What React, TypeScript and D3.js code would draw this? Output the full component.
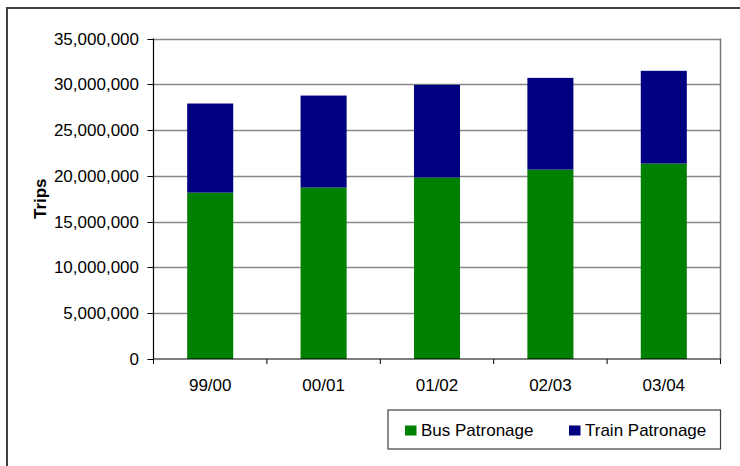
import React from "react";
import * as d3 from "d3";

const years = ["99/00", "00/01", "01/02", "02/03", "03/04"];
const busTrips = [18170000, 18720000, 19810000, 20680000, 21340000];
const trainTrips = [9730000, 10050000, 10130000, 10020000, 10130000];
const seriesNames = ["Bus Patronage", "Train Patronage"];
const seriesColors = ["#008000", "#000080"];
const yTicks = [0, 5000000, 10000000, 15000000, 20000000, 25000000, 30000000, 35000000];

const W = 740;
const H = 466;
const plot = { left: 153.5, right: 720.5, top: 38.5, bottom: 359 };
const FONT = "'Liberation Sans', Arial, sans-serif";

export default function App() {
  const x = d3
    .scaleBand<string>()
    .domain(years)
    .range([plot.left, plot.right])
    .paddingInner(0.594)
    .paddingOuter(0.297);
  const y = d3.scaleLinear().domain([0, 35000000]).range([plot.bottom, plot.top]);

  const rows = years.map((yr, i) => ({ yr, bus: busTrips[i], train: trainTrips[i] }));
  const stacked = d3.stack<any>().keys(["bus", "train"])(rows);
  const fmt = d3.format(",");

  const step = x.step();
  const boundaries = d3.range(years.length + 1).map((i) => plot.left + i * step);

  return (
    <svg
      width={W}
      height={H}
      style={{ position: "absolute", left: 0, top: 0, background: "#fff" }}
      fontFamily={FONT}
    >
      {/* chart frame */}
      <rect x={7} y={8} width={800} height={500} fill="#fff" stroke="#404040" strokeWidth={2} />

      {/* horizontal gridlines */}
      {yTicks.slice(1).map((t) => (
        <line
          key={t}
          x1={plot.left}
          x2={plot.right}
          y1={Math.round(y(t)) + 0.5}
          y2={Math.round(y(t)) + 0.5}
          stroke="#888"
          strokeWidth={1.4}
        />
      ))}
      {/* plot area right edge */}
      <line x1={plot.right} x2={plot.right} y1={plot.top} y2={plot.bottom} stroke="#777" strokeWidth={1.5} />

      {/* stacked bars */}
      {stacked.map((layer, si) => (
        <g key={si} fill={seriesColors[si]}>
          {layer.map((d, i) => (
            <rect
              key={i}
              x={x(years[i])}
              y={y(d[1])}
              width={x.bandwidth()}
              height={y(d[0]) - y(d[1])}
            />
          ))}
        </g>
      ))}

      {/* y axis */}
      <line x1={plot.left} x2={plot.left} y1={plot.top} y2={plot.bottom} stroke="#000" strokeWidth={1.2} />
      {yTicks.map((t) => (
        <g key={t}>
          <line
            x1={plot.left - 6}
            x2={plot.left}
            y1={Math.round(y(t)) + 0.5}
            y2={Math.round(y(t)) + 0.5}
            stroke="#000"
          />
          <text x={139} y={y(t) + 6} textAnchor="end" fontSize={17} fill="#000">
            {fmt(t)}
          </text>
        </g>
      ))}

      {/* x axis */}
      <line x1={plot.left} x2={plot.right} y1={plot.bottom} y2={plot.bottom} stroke="#000" strokeWidth={1.2} />
      {boundaries.map((bx, i) => (
        <line key={i} x1={bx} x2={bx} y1={plot.bottom} y2={plot.bottom + 5} stroke="#000" />
      ))}
      {years.map((yr) => (
        <text
          key={yr}
          x={(x(yr) as number) + x.bandwidth() / 2}
          y={391}
          textAnchor="middle"
          fontSize={17}
          fill="#000"
        >
          {yr}
        </text>
      ))}

      {/* y axis title */}
      <text
        transform={`translate(${46},${(plot.top + plot.bottom) / 2}) rotate(-90)`}
        textAnchor="middle"
        fontSize={17}
        fontWeight="bold"
        fill="#000"
      >
        Trips
      </text>

      {/* legend */}
      <rect x={388} y={410} width={332.5} height={39} fill="#fff" stroke="#404040" strokeWidth={1.2} />
      {seriesNames.map((name, i) => {
        const lx = i === 0 ? 405 : 569;
        return (
          <g key={name}>
            <rect x={lx} y={425.5} width={11.5} height={10} fill={seriesColors[i]} />
            <text x={lx + 16} y={435.5} fontSize={17} fill="#000">
              {name}
            </text>
          </g>
        );
      })}
    </svg>
  );
}
